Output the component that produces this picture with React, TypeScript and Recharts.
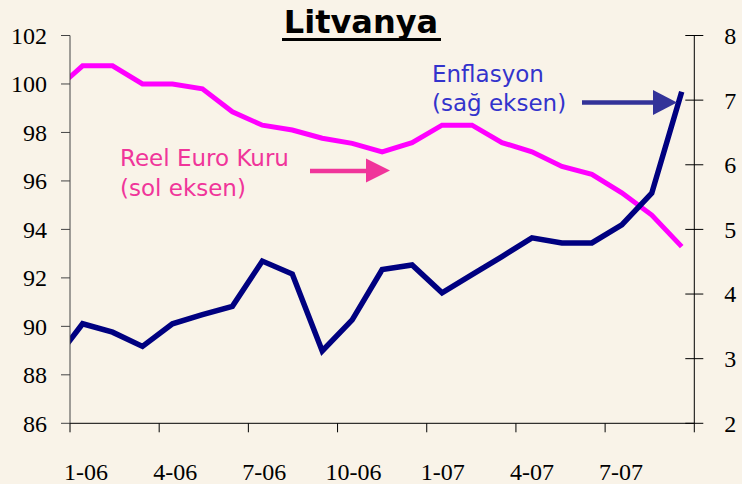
import React from 'react';
import { LineChart, Line, XAxis, YAxis } from 'recharts';

// months incl. one clipped point before the visible range
const months = ['12-05', '1-06', '2-06', '3-06', '4-06', '5-06', '6-06', '7-06', '8-06', '9-06', '10-06', '11-06', '12-06',
  '1-07', '2-07', '3-07', '4-07', '5-07', '6-07', '7-07', '8-07', '9-07'];
const reelEuro = [99.65, 100.75, 100.75, 100.0, 100.0, 99.8, 98.85, 98.3, 98.1, 97.76, 97.55, 97.2, 97.58,
  98.3, 98.3, 97.58, 97.2, 96.6, 96.27, 95.51, 94.59, 93.29];
const enflasyon = [2.93, 3.54, 3.41, 3.19, 3.54, 3.68, 3.81, 4.51, 4.31, 3.12, 3.6, 4.38, 4.45,
  4.02, 4.3, 4.58, 4.87, 4.79, 4.79, 5.07, 5.56, 7.13];
const xTickLabels = ['1-06', '4-06', '7-06', '10-06', '1-07', '4-07', '7-07'];
const leftTicks = [86, 88, 90, 92, 94, 96, 98, 100, 102];
const rightTicks = [2, 3, 4, 5, 6, 7, 8];

const data = months.map((m, i) => ({ x: i - 1, month: m, reel: reelEuro[i], enf: enflasyon[i] }));

const xDomain: [number, number] = [-0.42, 20.42];
const boundaryTicks = Array.from({ length: 8 }, (_, k) => xDomain[0] + (k * (xDomain[1] - xDomain[0])) / 7);

const serif = 'Liberation Serif, Times New Roman, serif';
const sans = 'DejaVu Sans, Verdana, sans-serif';

const XTick = (props: any) => {
  const { x, y, index } = props;
  const label = xTickLabels[index];
  return (
    <g>
      <line x1={x} x2={x} y1={y} y2={y + 9} stroke="#000" strokeWidth={1} />
      {label && (
        <text x={x + 16} y={y + 48} textAnchor="middle" dy="0.35em" fontFamily={serif} fontSize={24} fill="#000">
          {label}
        </text>
      )}
    </g>
  );
};

const RightTick = (props: any) => {
  const { x, y, payload } = props;
  return (
    <g>
      <line x1={x - 9} x2={x + 9} y1={y} y2={y} stroke="#000" strokeWidth={1} />
      <text x={x + 30} y={y} dy="0.35em" textAnchor="start" fontFamily={serif} fontSize={24} fill="#000">
        {payload.value}
      </text>
    </g>
  );
};

export default function App() {
  return (
    <div style={{ position: 'absolute', left: 0, top: 0, width: 742, height: 484, background: '#f9f3e8' }}>
      <LineChart width={742} height={484} data={data} margin={{ top: 35.5, right: 0, bottom: 0, left: 0 }}>
        <XAxis
          dataKey="x"
          type="number"
          domain={xDomain}
          allowDataOverflow
          ticks={boundaryTicks}
          interval={0}
          height={60.7}
          tickSize={0}
          tickMargin={0}
          tickLine={false}
          axisLine={{ stroke: '#000', strokeWidth: 1 }}
          tick={<XTick />}
        />
        <YAxis
          yAxisId="left"
          domain={[86, 102]}
          ticks={leftTicks}
          interval={0}
          width={70}
          tickSize={9}
          tickMargin={14}
          axisLine={{ stroke: '#444', strokeWidth: 1 }}
          tickLine={{ stroke: '#444', strokeWidth: 1 }}
          tick={{ fill: '#000', fontFamily: serif, fontSize: 24 }}
        />
        <YAxis
          yAxisId="right"
          orientation="right"
          domain={[2, 8]}
          ticks={rightTicks}
          interval={0}
          width={47.7}
          tickSize={0}
          tickMargin={0}
          tickLine={false}
          axisLine={{ stroke: '#000', strokeWidth: 1 }}
          tick={<RightTick />}
        />
        <Line yAxisId="left" type="linear" dataKey="reel" stroke="#ff00ff" strokeWidth={5} dot={false} isAnimationActive={false} />
        <Line yAxisId="right" type="linear" dataKey="enf" stroke="#000080" strokeWidth={5.5} dot={false} isAnimationActive={false} />
      </LineChart>
      <svg width={742} height={484} style={{ position: 'absolute', left: 0, top: 0, pointerEvents: 'none' }}>
        <text x={361} y={33} textAnchor="middle" fontFamily={sans} fontWeight="bold" fontSize={32} fill="#000">
          Litvanya
        </text>
        <line x1={282} x2={441} y1={39.5} y2={39.5} stroke="#000" strokeWidth={3} />
        <text x={432} y={82} fontFamily={sans} fontSize={23} fill="#3333cc">Enflasyon</text>
        <text x={432} y={111} fontFamily={sans} fontSize={23} fill="#3333cc">(sağ eksen)</text>
        <line x1={582} x2={656} y1={102.5} y2={102.5} stroke="#333399" strokeWidth={4.5} />
        <polygon points="653,90 677,102.5 653,115" fill="#333399" />
        <text x={120} y={166} fontFamily={sans} fontSize={23} fill="#f0359a">Reel Euro Kuru</text>
        <text x={120} y={196} fontFamily={sans} fontSize={23} fill="#f0359a">(sol eksen)</text>
        <line x1={310} x2={368} y1={171} y2={171} stroke="#f0359a" strokeWidth={4.5} />
        <polygon points="366,158.5 390,170.5 366,182.5" fill="#f0359a" />
      </svg>
    </div>
  );
}
